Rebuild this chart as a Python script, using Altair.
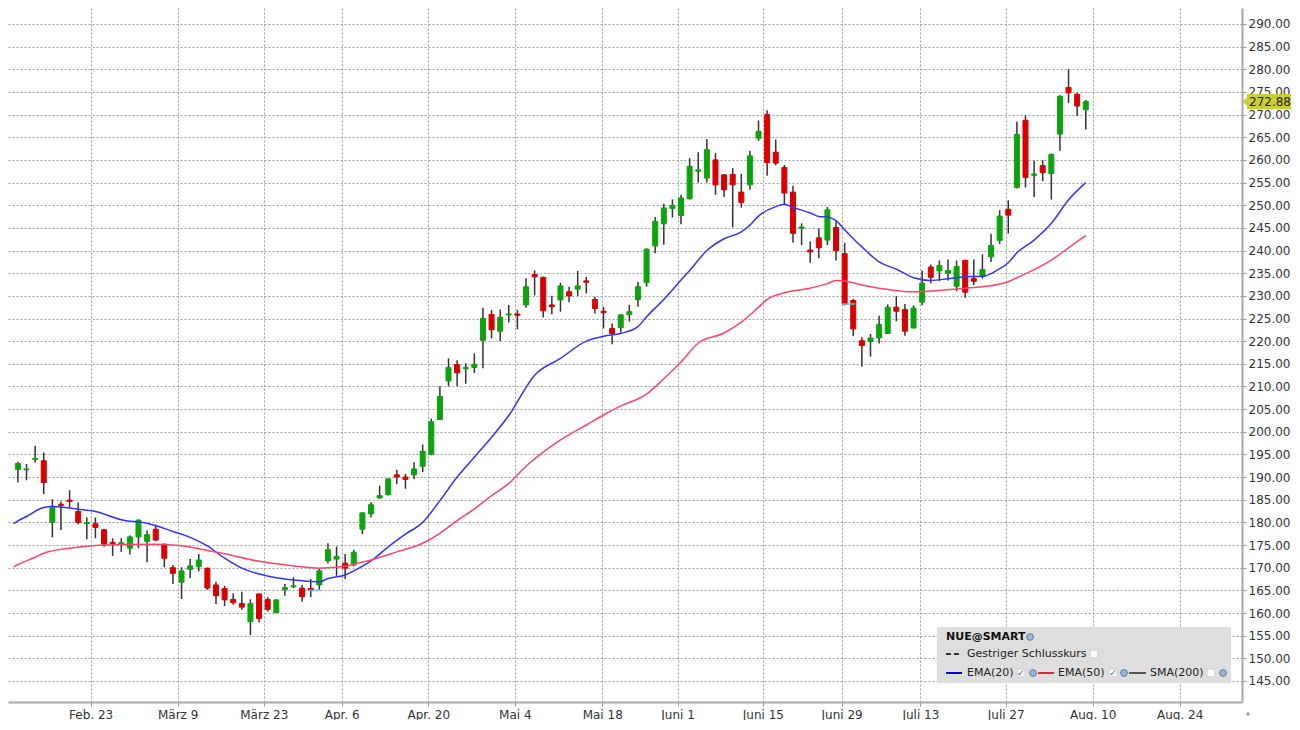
import altair as alt
import numpy as np
import pandas as pd

# ---------------- data ----------------
opens = [191.7,191.6,193.9,193.6,180.0,184.0,184.9,182.4,179.7,179.7,
         178.4,175.6,175.2,174.3,176.8,175.8,178.5,175.2,170.0,166.8,
         169.6,170.3,169.9,166.2,165.4,163.0,162.1,158.1,164.2,163.0,
         160.1,165.1,165.8,165.5,165.4,166.2,171.5,171.9,171.0,170.6,
         178.5,181.9,185.4,186.1,190.5,190.0,190.5,192.4,195.0,202.7,
         211.2,214.85,213.9,214.2,220.2,225.9,222.2,225.8,226.0,228.0,
         234.7,234.1,228.0,229.1,230.9,231.5,233.3,229.2,226.6,222.8,
         223.0,225.9,229.2,232.9,241.0,245.9,249.3,247.7,251.4,257.5,
         256.0,260.0,256.7,256.8,252.9,254.5,264.8,270.0,261.7,258.3,
         252.9,244.9,240.1,242.8,242.3,245.1,239.3,229.0,220.1,219.9,
         220.7,221.7,227.5,227.0,222.9,228.6,236.35,235.5,235.0,232.1,
         237.8,233.8,234.3,238.6,242.25,249.1,253.9,268.75,256.6,258.75,
         257.0,265.7,276.0,274.5,271.1]
highs = [193.4,192.9,196.9,195.4,185.1,184.6,187.1,184.4,181.1,181.1,
         178.6,176.5,176.5,177.1,180.7,178.2,179.5,175.3,170.6,170.1,
         171.9,173.0,170.0,166.9,166.0,164.35,164.7,163.0,164.3,163.5,
         163.0,166.4,167.9,166.2,167.5,169.7,175.4,174.7,173.0,173.95,
         182.2,184.45,188.1,189.7,191.6,190.7,193.3,197.2,202.9,210.05,
         216.2,215.8,215.1,217.3,227.4,226.9,227.0,228.0,226.9,233.9,
         235.6,234.2,230.0,232.9,232.0,235.5,234.2,229.8,227.6,223.9,
         226.0,228.0,233.1,240.5,247.4,250.3,251.3,252.3,260.4,261.7,
         264.6,261.5,256.9,258.2,256.9,262.0,268.7,270.95,264.5,258.9,
         254.3,246.0,242.0,244.9,249.6,246.5,241.7,229.3,220.85,221.6,
         225.6,228.1,229.9,228.2,227.9,235.6,236.9,237.8,238.0,237.8,
         238.0,238.0,239.15,243.7,248.9,251.1,268.4,269.85,259.8,259.9,
         261.4,274.3,280.0,274.8,273.2]
lows = [188.8,189.3,193.2,186.25,176.7,178.3,183.2,179.6,176.3,176.5,
        174.6,172.6,173.5,172.9,174.3,171.2,175.9,170.1,166.4,163.1,
        167.7,169.2,165.1,162.0,161.55,161.8,160.7,155.1,157.9,160.3,
        160.0,163.8,165.5,162.5,163.5,165.1,171.0,168.2,167.5,170.3,
        177.4,181.1,185.2,186.0,188.4,187.4,189.6,191.1,194.8,202.6,
        210.05,210.05,210.6,213.0,214.0,220.6,220.0,224.1,222.6,227.4,
        230.1,225.2,225.9,226.5,228.6,230.0,230.55,226.1,222.8,219.3,
        221.85,224.3,227.6,232.0,239.4,241.3,247.3,245.8,251.3,255.0,
        255.0,252.3,251.8,245.1,249.5,253.4,264.2,256.5,258.8,250.1,
        241.8,241.2,237.3,238.3,241.2,237.8,227.9,221.1,214.4,216.6,
        219.5,221.6,224.4,221.2,222.8,227.9,232.8,233.25,233.4,231.0,
        229.6,232.4,233.8,237.45,241.4,243.75,253.7,253.9,251.8,255.3,
        251.25,262.0,272.6,269.7,266.7]
closes = [193.0,191.8,194.1,188.8,183.3,183.75,184.6,180.0,179.95,178.9,
          175.2,175.3,175.5,176.8,180.5,177.3,176.1,172.1,168.75,169.3,
          170.4,171.7,165.5,163.8,162.9,162.3,161.3,162.1,158.8,160.8,
          162.9,165.6,166.0,163.6,165.0,169.3,173.95,172.5,169.9,173.4,
          182.1,183.9,185.9,189.6,190.0,189.5,191.8,195.7,202.2,207.8,
          214.2,213.0,214.2,214.9,225.0,222.5,225.3,226.0,225.7,232.0,
          234.2,226.7,227.6,232.2,230.0,232.2,233.0,227.2,226.3,221.7,
          225.8,226.5,232.0,240.3,246.4,249.4,250.0,251.6,258.6,257.8,
          262.25,254.5,253.4,254.5,250.6,260.9,266.3,259.4,259.3,252.7,
          243.8,245.2,239.7,240.6,249.0,240.0,228.2,222.7,219.0,220.7,
          223.65,227.5,226.6,222.2,227.3,232.8,234.1,236.7,235.6,236.5,
          230.8,233.2,235.8,241.1,247.6,247.8,265.6,256.1,256.9,257.2,
          261.2,274.05,274.8,271.9,272.88]

ema20_idx = [-0.5,0,1,3,4,7,9,12,15,18,20,22,24,26,28,30,33,35,36,38,
             39,41,43,45,47,49,51,53,55,57,60,63,66,68,70,72,73,75,77,78,
             80,82,84,85,86,88,89,90,92,93,94,95,96,98,100,102,104,106,108,110,
             112,114,115,116,118,120,122,124]
ema20_val = [179.7,180.35,181.3,183.3,183.5,182.9,182.4,180.6,179.8,178.0,
             176.7,174.8,172.1,169.9,168.6,167.8,167.1,166.9,167.6,168.4,
             169.3,171.5,174.6,177.4,180.0,184.8,190.0,194.4,198.8,203.6,
             212.5,216.2,220.0,221.1,221.7,223.2,225.4,229.2,233.5,235.6,
             240.0,242.6,244.1,245.6,247.6,249.7,250.2,249.5,248.3,247.5,
             247.4,246.6,244.6,240.8,237.5,235.9,234.0,233.4,233.8,234.2,
             234.3,236.0,237.3,239.5,242.3,246.0,251.2,255.0]

ema50_idx = [-0.5,0,2,3,6,9,12,16,19,22,24,28,32,35,38,39,41,44,47,49,
             51,53,55,57,59,61,63,66,68,70,73,75,77,79,82,84,86,87,89,92,
             94,95,96,98,100,104,110,112,115,116,118,120,122,124]
ema50_val = [170.2,170.7,172.3,173.2,174.3,174.9,175.1,175.2,174.85,173.8,
             173.1,171.4,170.4,169.9,170.3,170.8,171.7,173.5,175.4,177.6,
             180.4,183.0,185.9,188.6,192.4,195.5,198.2,201.5,203.7,205.7,
             208.3,211.7,215.4,219.6,221.8,224.2,227.5,229.2,230.7,231.7,
             232.7,233.4,233.3,232.4,231.7,230.9,231.7,232.0,233.1,234.0,
             235.8,237.9,240.6,243.3]

dividend_idx = [34, 96]

tick_pos = [8.45, 18.55, 28.55, 37.6, 47.65, 57.7, 67.85, 76.6, 86.5, 95.65, 104.8, 114.7, 124.8, 134.9]
tick_labels = ["Feb. 23", "März 9", "März 23", "Apr. 6", "Apr. 20", "Mai 4", "Mai 18",
               "Juni 1", "Juni 15", "Juni 29", "Juli 13", "Juli 27", "Aug. 10", "Aug. 24"]
price_ticks = list(range(145, 291, 5))

# ---------------- layout ----------------
W, H = 1234, 694
FONT = "DejaVu Sans"
GRID = "#a0a0a0"

df = pd.DataFrame({"i": np.arange(len(opens)), "open": opens, "high": highs,
                   "low": lows, "close": closes})
df["dir"] = np.where(df["close"] >= df["open"], "up", "down")

xs = alt.Scale(domain=[-0.571, 141.56], nice=False, zero=False)
ys = alt.Scale(domain=[140.36, 293.53], nice=False, zero=False)

label_expr = ("[" + ",".join("'%s'" % t for t in tick_labels) + "][indexof(["
              + ",".join(str(p) for p in tick_pos) + "], datum.value)]")

xaxis = alt.Axis(values=tick_pos, labelExpr=label_expr, title=None, grid=True,
                 gridDash=[2, 2], gridColor=GRID, gridWidth=1,
                 tickSize=4, tickColor="#999999", domainColor="#a8a8a8", domainWidth=2,
                 labelPadding=3, labelFont=FONT, labelFontSize=12, labelColor="#333333",
                 labelOverlap=False, labelFlush=False)
yaxis = alt.Axis(orient="right", values=price_ticks, format=".2f", title=None, grid=True,
                 gridDash=[2, 2], gridColor=GRID, gridWidth=1,
                 tickSize=4, tickColor="#999999", domainColor="#a8a8a8", domainWidth=2,
                 labelPadding=2, labelFont=FONT, labelFontSize=12, labelColor="#333333",
                 labelOverlap=False)

X = alt.X("i:Q", scale=xs, axis=xaxis)


def Y(field):
    return alt.Y(field, scale=ys, axis=yaxis)


cscale = alt.Scale(domain=["up", "down"], range=["#0ca40c", "#d80000"])

base = alt.Chart(df)
wicks = base.mark_rule(color="#333333", strokeWidth=1.5).encode(
    x=X, y=Y("low:Q"), y2="high:Q")
bodies = base.mark_bar(size=5, strokeWidth=1).encode(
    x=X, y=Y("open:Q"), y2="close:Q",
    color=alt.Color("dir:N", scale=cscale, legend=None),
    stroke=alt.Stroke("dir:N", scale=cscale, legend=None))

ema20 = alt.Chart(pd.DataFrame({"i": ema20_idx, "v": ema20_val})).mark_line(
    color="#3333ff", strokeWidth=1.5, interpolate="monotone").encode(x=X, y=Y("v:Q"))
ema50 = alt.Chart(pd.DataFrame({"i": ema50_idx, "v": ema50_val})).mark_line(
    color="#ff4468", strokeWidth=1.5, interpolate="monotone").encode(x=X, y=Y("v:Q"))

divs = alt.Chart(df.iloc[dividend_idx]).mark_tick(
    orient="horizontal", size=13, thickness=2, color="#4fd0e0", xOffset=4).encode(
    x=X, y=Y("close:Q"))

last = df.iloc[[-1]]
tag_path = "M-1,0L-0.8,-0.16L-0.8,-0.31L1,-0.31L1,0.31L-0.8,0.31L-0.8,0.16Z"
tag = alt.Chart(last).mark_point(shape=tag_path, size=2401, filled=True, color="#cccc33",
                                 opacity=1, strokeWidth=0).encode(
    x=alt.value(W + 24.5), y=Y("close:Q"))
tag_text = alt.Chart(last).mark_text(align="left", baseline="middle", font=FONT,
                                     fontSize=12, color="#222222").encode(
    x=alt.value(W + 7), y=Y("close:Q"), text=alt.Text("close:Q", format=".2f"))

# ---------------- legend box ----------------
one = pd.DataFrame({"k": [0]})


def txt(s, px, py, **kw):
    opts = dict(align="left", baseline="middle", font=FONT, fontSize=11, color="#222222")
    opts.update(kw)
    return alt.Chart(one).mark_text(text=s, **opts).encode(x=alt.value(px), y=alt.value(py))


def seg(px1, px2, py, color, dash=None):
    opts = dict(color=color, strokeWidth=2)
    if dash:
        opts["strokeDash"] = dash
    return alt.Chart(one).mark_rule(**opts).encode(
        x=alt.value(px1), x2=alt.value(px2), y=alt.value(py))


def globe(px, py):
    return alt.Chart(one).mark_point(shape="circle", size=45, filled=True, fill="#9ab8d6",
                                     stroke="#5a7aa0", strokeWidth=1, opacity=1).encode(
        x=alt.value(px), y=alt.value(py))


def box(px, py):
    return alt.Chart(one).mark_point(shape="square", size=60, filled=True, fill="#ffffff",
                                     stroke="#d0d0d0", strokeWidth=1, opacity=1).encode(
        x=alt.value(px), y=alt.value(py))


def check(px, py):
    return alt.layer(box(px, py), txt("✓", px - 4, py, fontSize=9, color="#2a5cc8"))


legend_bg = alt.Chart(one).mark_rect(color="#dedede").encode(
    x=alt.value(929), x2=alt.value(1223), y=alt.value(619), y2=alt.value(675))

legend = [
    legend_bg,
    txt("NUE@SMART", 938, 629, fontWeight="bold", color="#111111"),
    globe(1022, 629),
    seg(938, 954, 646, "#333333", dash=[5, 3]),
    txt("Gestriger Schlusskurs", 959, 646),
    box(1086, 646),
    seg(938, 954, 665, "#0000dd"),
    txt("EMA(20)", 959, 665),
    check(1013, 665),
    globe(1025, 665),
    seg(1030, 1046, 665, "#e8203c"),
    txt("EMA(50)", 1050, 665),
    check(1105, 665),
    globe(1116, 665),
    seg(1121, 1138, 665, "#555555"),
    txt("SMA(200)", 1142, 665),
    box(1203, 665),
    globe(1215, 665),
]

corner = alt.Chart(one).mark_point(shape="diamond", size=18, filled=True, color="#999999",
                                   opacity=1).encode(x=alt.value(W + 6), y=alt.value(H + 12))

chart = alt.layer(wicks, bodies, ema20, ema50, divs, *legend, tag, tag_text, corner).properties(
    width=W, height=H, padding=0, background="white"
).configure_view(stroke=None)

chart.save("out.html", embed_options={"renderer": "svg", "actions": False})
